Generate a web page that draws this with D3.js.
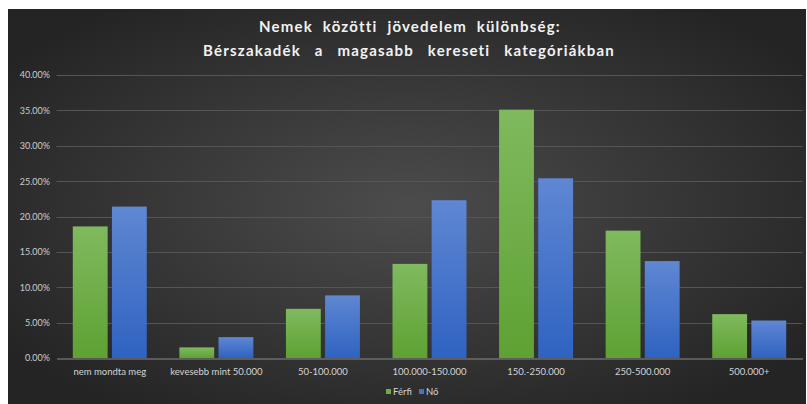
<!DOCTYPE html>
<html>
<head>
<meta charset="utf-8">
<script src="https://cdn.jsdelivr.net/npm/d3@7"></script>
<style>
  body { margin: 0; background: #ffffff; }
  svg { display: block; }
</style>
</head>
<body>
<svg id="chart"></svg>
<script>
// Data
const categories = ["nem mondta meg", "kevesebb mint 50.000", "50-100.000", "100.000-150.000", "150.-250.000", "250-500.000", "500.000+"];
const seriesNames = ["Férfi", "Nő"];
const ferfi = [0.186, 0.015, 0.0695, 0.133, 0.351, 0.18, 0.062];
const no = [0.214, 0.0295, 0.0885, 0.223, 0.254, 0.137, 0.053];
const yTicks = [0, 0.05, 0.10, 0.15, 0.20, 0.25, 0.30, 0.35, 0.40];

const width = 807, height = 404;
const svg = d3.select("#chart").attr("width", width).attr("height", height);

const defs = svg.append("defs");

// dark background with a soft light spot
const bg = defs.append("radialGradient").attr("id", "bgGrad")
  .attr("cx", "50%").attr("cy", "50%").attr("r", "62%");
bg.append("stop").attr("offset", "0%").attr("stop-color", "#4c4c4c");
bg.append("stop").attr("offset", "100%").attr("stop-color", "#242424");

function barGradient(id, top, bottom) {
  const g = defs.append("linearGradient").attr("id", id)
    .attr("x1", 0).attr("y1", 0).attr("x2", 0).attr("y2", 1);
  g.append("stop").attr("offset", "0%").attr("stop-color", top);
  g.append("stop").attr("offset", "100%").attr("stop-color", bottom);
}
barGradient("gGreen", "#7fba5e", "#5fa133");
barGradient("gBlue", "#5f87d3", "#2f63c1");

const colors = { "Férfi": "url(#gGreen)", "Nő": "url(#gBlue)" };
const legendColors = { "Férfi": "#70ad47", "Nő": "#4472c4" };

svg.append("rect")
  .attr("x", 8).attr("y", 9)
  .attr("width", 798).attr("height", height - 9)
  .attr("fill", "url(#bgGrad)");

// title
const title = svg.append("text")
  .attr("x", 410)
  .attr("text-anchor", "middle")
  .attr("fill", "#f2f2f2")
  .attr("font-family", "Lato, 'Open Sans', sans-serif")
  .attr("font-weight", "bold")
  .attr("font-size", 15)
  .attr("letter-spacing", 1.2);
title.append("tspan").attr("x", 410).attr("y", 32)
  .style("word-spacing", "5px")
  .text("Nemek közötti jövedelem különbség:");
title.append("tspan").attr("x", 409).attr("y", 56)
  .style("word-spacing", "9px")
  .text("Bérszakadék a magasabb kereseti kategóriákban");

// scales
const x0 = d3.scaleBand().domain(categories).range([56.5, 802.5]).paddingInner(0).paddingOuter(0);
const x1 = d3.scaleBand().domain(seriesNames).range([16.3, x0.bandwidth() - 16.3]).paddingInner(0.11);
const y = d3.scaleLinear().domain([0, 0.40]).range([358, 75]);

// gridlines
svg.append("g")
  .selectAll("line")
  .data(yTicks.slice(1))
  .join("line")
  .attr("x1", 56.5).attr("x2", 802.5)
  .attr("y1", d => Math.round(y(d)) + 0.5)
  .attr("y2", d => Math.round(y(d)) + 0.5)
  .attr("stroke", "#555555")
  .attr("stroke-width", 1);

// y axis labels
const yAxis = svg.append("g")
  .attr("transform", "translate(50,0)")
  .call(d3.axisLeft(y).tickValues(yTicks).tickFormat(d3.format(".2%")).tickSize(0).tickPadding(0));
yAxis.select(".domain").remove();
yAxis.selectAll("text")
  .attr("fill", "#cccccc")
  .attr("font-family", "Lato, 'Open Sans', sans-serif")
  .attr("font-size", 9);

// bars
const groups = svg.append("g")
  .selectAll("g")
  .data(categories)
  .join("g")
  .attr("transform", d => `translate(${x0(d)},0)`);

groups.selectAll("rect")
  .data((d, i) => [
    { key: "Férfi", value: ferfi[i] },
    { key: "Nő", value: no[i] }
  ])
  .join("rect")
  .attr("x", d => x1(d.key))
  .attr("width", x1.bandwidth())
  .attr("y", d => y(d.value))
  .attr("height", d => y(0) - y(d.value))
  .attr("fill", d => colors[d.key]);

// x axis
const xAxis = svg.append("g")
  .attr("transform", `translate(0,${y(0) + 0.5})`)
  .call(d3.axisBottom(x0).tickSize(0).tickPadding(10));
xAxis.select(".domain").attr("stroke", "#8a8a8a").attr("stroke-width", 1);
xAxis.selectAll("text")
  .attr("fill", "#d4d4d4")
  .attr("font-family", "Lato, 'Open Sans', sans-serif")
  .attr("font-size", 9.5);

// legend
const legend = svg.append("g").attr("transform", "translate(386,392)");
const legendItems = legend.selectAll("g")
  .data(seriesNames)
  .join("g")
  .attr("transform", (d, i) => `translate(${i * 33},0)`);
legendItems.append("rect")
  .attr("x", 0).attr("y", -3)
  .attr("width", 5).attr("height", 5)
  .attr("fill", d => legendColors[d]);
legendItems.append("text")
  .attr("x", 7).attr("y", 3)
  .attr("fill", "#d4d4d4")
  .attr("font-family", "Lato, 'Open Sans', sans-serif")
  .attr("font-size", 9.5)
  .text(d => d);
</script>
</body>
</html>
